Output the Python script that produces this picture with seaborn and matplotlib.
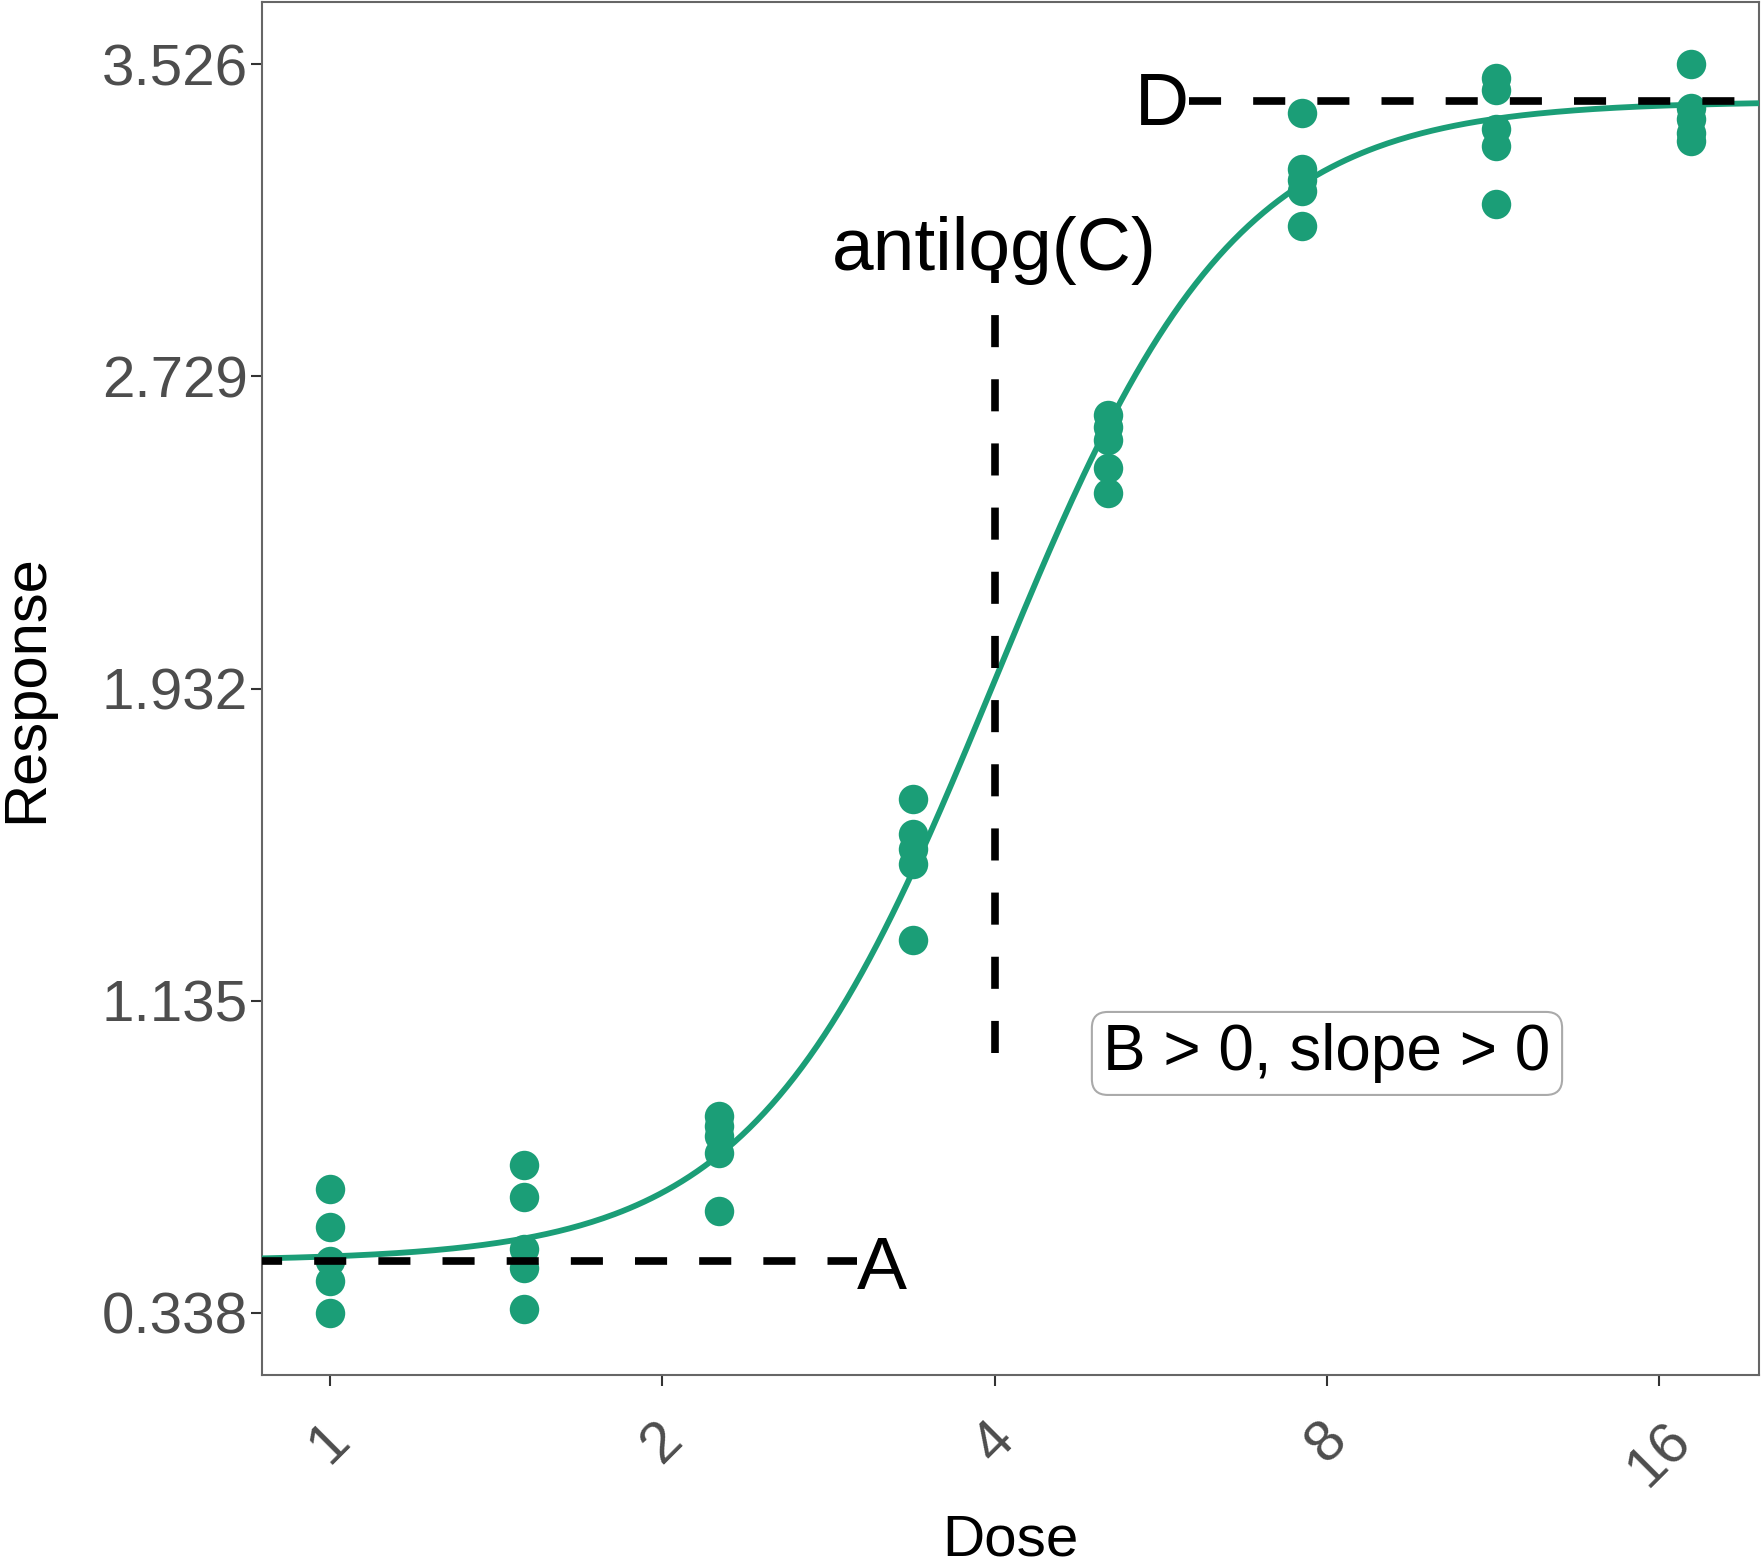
import numpy as np
import pandas as pd
import matplotlib
matplotlib.use("Agg")
import matplotlib.pyplot as plt
import seaborn as sns

# doses (1.5-fold dilution series) and replicate responses
doses = [1, 1.5, 2.25, 3.375, 5.0625, 7.59375, 11.390625, 17.0859375]
resp_1 = [0.654, 0.556, 0.470, 0.420, 0.338]
resp_2 = [0.716, 0.633, 0.500, 0.452, 0.348]
resp_3 = [0.841, 0.815, 0.790, 0.746, 0.597]
resp_4 = [1.651, 1.561, 1.522, 1.483, 1.291]
resp_5 = [2.630, 2.600, 2.566, 2.495, 2.431]
resp_6 = [3.402, 3.259, 3.231, 3.202, 3.113]
resp_7 = [3.491, 3.462, 3.360, 3.317, 3.169]
resp_8 = [3.526, 3.414, 3.386, 3.350, 3.330]
responses = [resp_1, resp_2, resp_3, resp_4, resp_5, resp_6, resp_7, resp_8]

# 4PL parameters shown by the guide lines
A = 0.47      # lower asymptote
D = 3.432     # upper asymptote
C = 4.0       # antilog(C), the midpoint dose
B = 4.0       # slope

x_ticks = [1, 2, 4, 8, 16]
y_ticks = [0.338, 1.135, 1.932, 2.729, 3.526]

df = pd.DataFrame({
    "Dose": np.repeat(doses, [len(r) for r in responses]),
    "Response": np.concatenate(responses),
})

teal = "#1B9E77"

sns.set_theme(style="white")
plt.rcParams["font.family"] = ["Liberation Sans", "DejaVu Sans"]

fig = plt.figure(figsize=(17.65, 15.67), dpi=100)
ax = fig.add_axes([0.1482, 0.1225, 0.8484, 0.8762])

# ggplot-style 5% expansion on a log2 x axis
lx = np.log2([min(doses), max(doses)])
xlo, xhi = 2 ** (lx[0] - 0.05 * (lx[1] - lx[0])), 2 ** (lx[1] + 0.05 * (lx[1] - lx[0]))
ylo = min(y_ticks) - 0.05 * (max(y_ticks) - min(y_ticks))
yhi = max(y_ticks) + 0.05 * (max(y_ticks) - min(y_ticks))

xs = np.geomspace(xlo, xhi, 400)
ys = A + (D - A) / (1 + (C / xs) ** B)

sns.scatterplot(data=df, x="Dose", y="Response", color=teal, s=450,
                linewidth=0, ax=ax, zorder=2)
sns.lineplot(x=xs, y=ys, color=teal, lw=4.2, ax=ax, zorder=3)

dash = dict(color="black", lw=5.5, zorder=4)
ax.plot([xlo, 3], [A, A], ls=(1.57, (4.2, 4.2)), **dash)
ax.plot([6, xhi], [D, D], ls=(0, (4.2, 4.2)), **dash)
ax.plot([C, C], [1.0, 3.0], ls=(0, (4.2, 4.2)), **dash)

ax.text(C, 3.0, "antilog(C)", fontsize=54, color="black", ha="center",
        va="baseline", zorder=5)
ax.annotate("A", (3, A), xytext=(0, -6), textcoords="offset points",
            fontsize=54, color="black", ha="left", va="center", zorder=5)
ax.annotate("D", (6, D), xytext=(0, -3), textcoords="offset points",
            fontsize=54, color="black", ha="right", va="center", zorder=5)
ax.text(8, 1.0, "B > 0, slope > 0", fontsize=46, color="black", ha="center",
        va="center", zorder=5,
        bbox=dict(boxstyle="round,pad=0.18,rounding_size=0.25", fc="white",
                  ec="#aaaaaa", lw=1.5))

ax.set_xscale("log", base=2)
ax.set_xlim(xlo, xhi)
ax.set_ylim(ylo, yhi)
ax.set_xticks(x_ticks)
ax.set_xticklabels([str(t) for t in x_ticks])
ax.minorticks_off()
ax.set_yticks(y_ticks)
ax.set_yticklabels([f"{t:.3f}" for t in y_ticks])

ax.tick_params(axis="both", length=8, width=1.5, color="#333333",
               labelcolor="#4D4D4D", labelsize=42, left=True, bottom=True)
ax.tick_params(axis="y", pad=2)
ax.tick_params(axis="x", pad=19)
for lab in ax.get_xticklabels():
    lab.set_rotation(45)
    lab.set_ha("center")

ax.set_xlabel("Dose", fontsize=42, color="black", labelpad=12)
ax.set_ylabel("Response", fontsize=43, color="black", labelpad=34)

for sp in ax.spines.values():
    sp.set_color("#666666")
    sp.set_linewidth(1.5)

fig.savefig("out.png", dpi=100, facecolor="white")
